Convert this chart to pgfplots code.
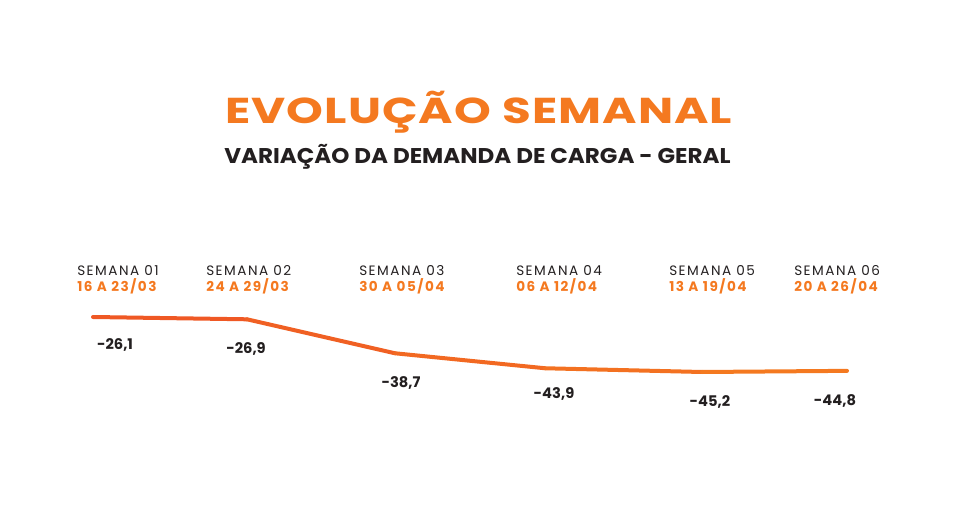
\documentclass[border=0pt]{standalone}
\usepackage{fontspec}
\setmainfont{Poppins}
\newfontfamily\titlefont[FakeStretch=1.3, LetterSpace=3]{Poppins}
\newfontfamily\subfont[FakeStretch=1.08]{Poppins}
\newfontfamily\weekfont[LetterSpace=11]{Poppins}
\usepackage{pgfplots}
\usepackage{pgfplotstable}
\pgfplotsset{compat=1.18}
\definecolor{laranja}{RGB}{244,121,32}
\definecolor{escuro}{RGB}{35,31,32}
\pgfplotstableread{
x y dx dy
93 -26.1 16.5 -24.75
247 -26.9 -0.75 -26
395 -38.7 4.5 -26
545 -43.9 6.75 -23
702 -45.2 6 -25.5
847 -44.8 -9 -26.25
}\dados
\begin{document}
\begin{tikzpicture}[x=1pt,y=1pt]
\useasboundingbox (0,0) rectangle (719.25,390.75);
\node[anchor=base, text=laranja, font=\titlefont\fontsize{27}{30}\selectfont\bfseries, inner sep=0pt] at (359,297.75) {EVOLUÇÃO SEMANAL};
\node[anchor=base, text=escuro, font=\subfont\fontsize{16}{18}\selectfont\bfseries, inner sep=0pt] at (358.1,268.3) {VARIAÇÃO DA DEMANDA DE CARGA - GERAL};
\begin{axis}[
  at={(0pt,170.25pt)}, anchor=north west,
  scale only axis, width=719.25pt, height=170.25pt,
  xmin=0, xmax=959, ymin=-96.94, ymax=-18.113,
  axis line style={draw=none}, tick style={draw=none}, major tick length=0pt,
  ytick=\empty,
  xtick={77,206,359,516,669,794},
  xticklabels={
    {SEMANA 01\\\textcolor{laranja}{\bfseries 16 A 23/03}},
    {SEMANA 02\\\textcolor{laranja}{\bfseries 24 A 29/03}},
    {SEMANA 03\\\textcolor{laranja}{\bfseries 30 A 05/04}},
    {SEMANA 04\\\textcolor{laranja}{\bfseries 06 A 12/04}},
    {SEMANA 05\\\textcolor{laranja}{\bfseries 13 A 19/04}},
    {SEMANA 06\\\textcolor{laranja}{\bfseries 20 A 26/04}}},
  xticklabel pos=upper,
  xticklabel style={anchor=south west, align=left, inner sep=0pt, text=escuro,
    font=\weekfont\fontsize{10.2}{11.8}\selectfont},
  clip=false,
  colormap={lar}{rgb255=(238,84,37) rgb255=(245,125,32)},
]
\addplot[mesh, point meta=x, line width=3pt, line cap=round] table[x=x,y=y] {\dados};
\addplot[draw=none, mark=none, point meta=x,
  visualization depends on={rawy \as \val},
  visualization depends on={\thisrow{dx} \as \dx},
  visualization depends on={\thisrow{dy} \as \dy},
  nodes near coords={\pgfmathprintnumber[fixed,fixed zerofill,precision=1,use comma,assume math mode=true]{\val}},
  every node near coord/.append style={anchor=base, xshift=\dx pt, yshift=\dy pt,
    font=\fontsize{11}{12}\selectfont\bfseries, text=escuro, inner sep=0pt}
] table[x=x,y=y] {\dados};
\end{axis}
\end{tikzpicture}
\end{document}
